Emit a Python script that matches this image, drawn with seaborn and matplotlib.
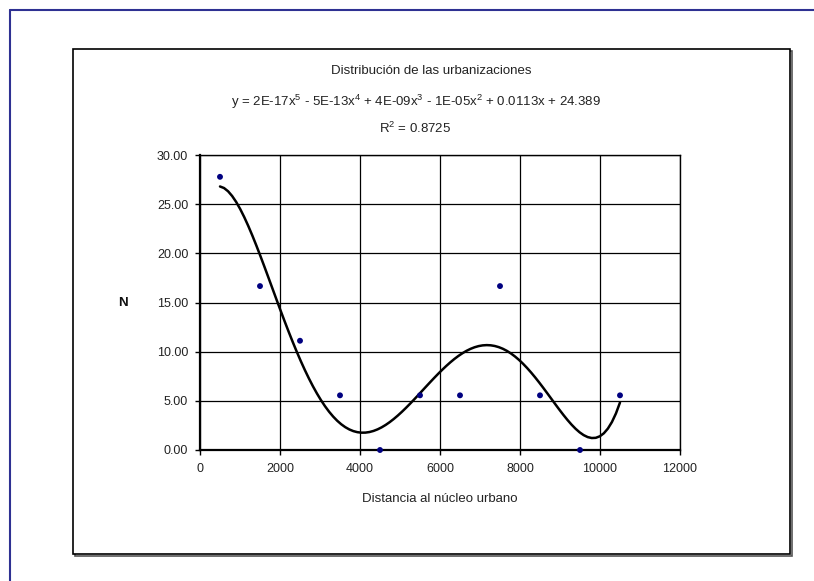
import matplotlib
matplotlib.use("Agg")
import matplotlib.pyplot as plt
from matplotlib.patches import Rectangle
from matplotlib.lines import Line2D
import seaborn as sns
import pandas as pd

# ---- data ----
distancia = [500, 1500, 2500, 3500, 4500, 5500, 6500, 7500, 8500, 9500, 10500]
porcentaje = [27.78, 16.67, 11.11, 5.56, 0.00, 5.56, 5.56, 16.67, 5.56, 0.00, 5.56]
x_ticks = [0, 2000, 4000, 6000, 8000, 10000, 12000]
y_ticks = [0, 5, 10, 15, 20, 25, 30]
titulo = "Distribución de las urbanizaciones"
ecuacion = r"y = 2E-17x$^{5}$ - 5E-13x$^{4}$ + 4E-09x$^{3}$ - 1E-05x$^{2}$ + 0.0113x + 24.389"
r2 = r"R$^{2}$ = 0.8725"
x_label = "Distancia al núcleo urbano"
y_label = "N"

df = pd.DataFrame({"x": distancia, "y": porcentaje})

sns.set_style("white")
plt.rcParams["font.family"] = ["Liberation Sans", "DejaVu Sans"]
plt.rcParams["mathtext.fontset"] = "custom"
plt.rcParams["mathtext.rm"] = "Liberation Sans"
plt.rcParams["mathtext.it"] = "Liberation Sans"
plt.rcParams["mathtext.default"] = "regular"

W, H = 814, 581
fig = plt.figure(figsize=(W / 100, H / 100), dpi=100)
fig.patch.set_facecolor("white")

def fx(px):
    return px / W

def fy(py):
    return 1 - py / H

# outer navy frame (top and left)
navy = "#2E3192"
fig.add_artist(Line2D([fx(10), 1.0], [fy(10), fy(10)], color=navy, lw=1.5,
                      transform=fig.transFigure, zorder=-5))
fig.add_artist(Line2D([fx(10), fx(10)], [fy(10), 0.0], color=navy, lw=1.5,
                      transform=fig.transFigure, zorder=-5))

# chart area box with slight shadow
fig.add_artist(Rectangle((fx(75), fy(556)), fx(790) - fx(73), fy(49) - fy(554),
                         transform=fig.transFigure, facecolor="none", edgecolor="#555555",
                         lw=1.2, zorder=-6))
fig.add_artist(Rectangle((fx(73), fy(554)), fx(790) - fx(73), fy(49) - fy(554),
                         transform=fig.transFigure, facecolor="white", edgecolor="black",
                         lw=1.2, zorder=-5))

# plot area
ax = fig.add_axes([fx(200), fy(450), fx(680) - fx(200), fy(155) - fy(450)], zorder=2)
ax.set_facecolor("white")

sns.regplot(data=df, x="x", y="y", order=5, ci=None, truncate=True, ax=ax,
            scatter_kws=dict(s=18, color="#000080", edgecolor="none", alpha=1.0,
                             zorder=5, clip_on=False),
            line_kws=dict(color="black", lw=1.8, zorder=3))

ax.set_xlim(0, 12000)
ax.set_ylim(0, 30)
ax.set_xticks(x_ticks)
ax.set_xticklabels([str(v) for v in x_ticks])
ax.set_yticks(y_ticks)
ax.set_yticklabels([f"{v:.2f}" for v in y_ticks])
ax.grid(True, color="black", lw=0.9)
ax.set_axisbelow(True)
for s in ax.spines.values():
    s.set_visible(True)
    s.set_color("black")
    s.set_linewidth(1.0)
ax.spines["left"].set_linewidth(1.6)
ax.spines["bottom"].set_linewidth(1.6)

ax.tick_params(axis="both", which="major", direction="out", length=3.5, width=1.0,
               colors="black", labelsize=9, labelcolor="#222222", left=True, bottom=True)
ax.tick_params(axis="x", pad=6)
ax.tick_params(axis="y", pad=5)

ax.set_xlabel(x_label, fontsize=9.5, color="#222222")
ax.xaxis.set_label_coords(0.5, -0.145)
ax.set_ylabel(y_label, fontsize=9.5, fontweight="bold", rotation=0, color="#111111",
              ha="center", va="center")
ax.yaxis.set_label_coords(-0.16, 0.50)

fig.text(fx(431), fy(71), titulo, ha="center", va="center", fontsize=9.5, color="#222222")
fig.text(fx(416), fy(102), ecuacion, ha="center", va="center", fontsize=9.5, color="#222222")
fig.text(fx(415), fy(128), r2, ha="center", va="center", fontsize=9.5, color="#222222")

fig.savefig("out.png", dpi=100, facecolor="white")
